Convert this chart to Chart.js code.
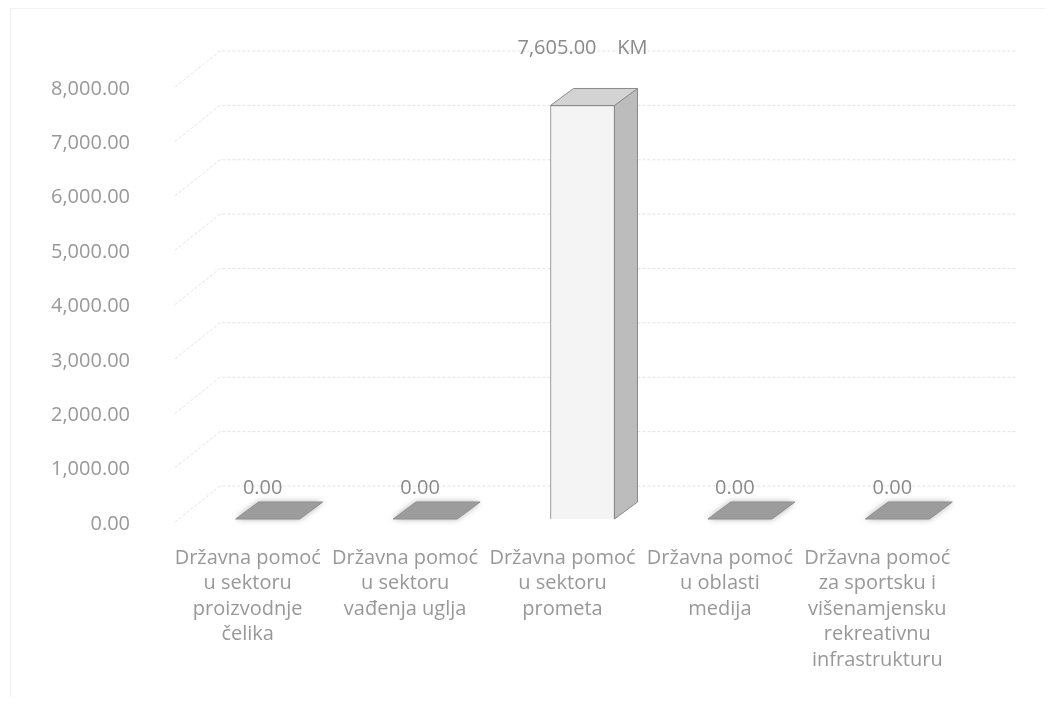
<!DOCTYPE html>
<html lang="en">
<head>
<meta charset="UTF-8">
<title>Državna pomoć</title>
<style>
  html, body { margin: 0; padding: 0; background: #fff; }
  .wrap { position: relative; width: 1054px; height: 704px; }
  .frame { position: absolute; left: 10px; top: 8px; width: 1034px; height: 688px;
           border-left: 1px solid #f0f0f0; border-top: 1px solid #f2f2f2; pointer-events: none; }
</style>
</head>
<body>
<div class="wrap">
  <canvas id="myChart" width="1054" height="704"></canvas>
  <div class="frame"></div>
</div>
<script src="https://cdn.jsdelivr.net/npm/chart.js"></script>
<script>
let categories = [
  ['Državna pomoć', 'u sektoru', 'proizvodnje', 'čelika'],
  ['Državna pomoć', 'u sektoru', 'vađenja uglja'],
  ['Državna pomoć', 'u sektoru', 'prometa'],
  ['Državna pomoć', 'u oblasti', 'medija'],
  ['Državna pomoć', 'za sportsku i', 'višenamjensku', 'rekreativnu', 'infrastrukturu']
];
let values = [0, 0, 7605, 0, 0];
let yTicks = [0, 1000, 2000, 3000, 4000, 5000, 6000, 7000, 8000];
let unit = 'KM';

let textColor = '#989898';
let fontFamily = '"Open Sans", sans-serif';
let fmt = v => v.toLocaleString('en-US', { minimumFractionDigits: 2, maximumFractionDigits: 2 });

// depth of the bars and of the back wall (fake excel 3d look)
let depth = { dx: 23, dy: -17 };
let wall = { dx: 45, dy: -33, left: -14, right: 41 };

let excel3d = {
  id: 'excel3d',
  beforeDatasetsDraw(chart) {
    let ctx = chart.ctx;
    let y = chart.scales.y;
    let area = chart.chartArea;
    ctx.save();
    ctx.strokeStyle = '#e2e2e2';
    ctx.lineWidth = 1;
    ctx.setLineDash([3, 2]);
    yTicks.forEach(t => {
      let py = y.getPixelForValue(t);
      let x0 = area.left + wall.left;
      ctx.beginPath();
      ctx.moveTo(x0, py + 3);
      ctx.lineTo(x0 + wall.dx, py + wall.dy);
      ctx.lineTo(area.right + wall.right, py + wall.dy);
      ctx.stroke();
    });
    ctx.restore();
  },
  afterDatasetsDraw(chart) {
    let ctx = chart.ctx;
    let meta = chart.getDatasetMeta(0);
    meta.data.forEach((bar, i) => {
      let p = bar.getProps(['x', 'y', 'base', 'width'], true);
      let l = p.x - p.width / 2, r = p.x + p.width / 2;
      ctx.save();
      if (values[i] > 0) {
        // side face
        ctx.beginPath();
        ctx.moveTo(r, p.y);
        ctx.lineTo(r + depth.dx, p.y + depth.dy);
        ctx.lineTo(r + depth.dx, p.base + depth.dy);
        ctx.lineTo(r, p.base);
        ctx.closePath();
        ctx.fillStyle = '#bcbcbc';
        ctx.fill();
        ctx.strokeStyle = '#8a8a8a';
        ctx.stroke();
      } else {
        ctx.shadowColor = 'rgba(0,0,0,0.35)';
        ctx.shadowBlur = 6;
      }
      // top face
      ctx.beginPath();
      ctx.moveTo(l, p.y);
      ctx.lineTo(r, p.y);
      ctx.lineTo(r + depth.dx, p.y + depth.dy);
      ctx.lineTo(l + depth.dx, p.y + depth.dy);
      ctx.closePath();
      ctx.fillStyle = values[i] > 0 ? '#d3d3d3' : '#9c9c9c';
      ctx.fill();
      ctx.shadowBlur = 0;
      ctx.strokeStyle = values[i] > 0 ? '#8a8a8a' : '#8f8f8f';
      ctx.stroke();
      ctx.restore();

      // value label
      ctx.save();
      ctx.fillStyle = '#8a8a8a';
      ctx.font = '20px ' + fontFamily;
      ctx.textAlign = 'center';
      ctx.textBaseline = 'middle';
      if (values[i] > 0) {
        ctx.fillText(fmt(values[i]) + '    ' + unit, p.x, p.y - 57);
      } else {
        ctx.fillText(fmt(values[i]), p.x - 5, p.y - 31);
      }
      ctx.restore();
    });
  }
};

let ctx = document.getElementById('myChart').getContext('2d');
let chart = new Chart(ctx, {
  type: 'bar',
  data: {
    labels: categories,
    datasets: [{
      data: values,
      backgroundColor: '#f4f4f4',
      borderColor: '#8a8a8a',
      borderWidth: 1,
      barThickness: 64
    }]
  },
  options: {
    responsive: false,
    animation: false,
    layout: { padding: { top: 84, right: 78, left: 0, bottom: 0 } },
    plugins: {
      legend: { display: false },
      tooltip: { enabled: false }
    },
    scales: {
      x: {
        grid: { display: false, drawTicks: false },
        border: { display: false },
        afterFit: s => { s.height = 185; },
        ticks: {
          color: textColor,
          font: { family: fontFamily, size: 20, lineHeight: 1.28 },
          padding: 26,
          labelOffset: -20,
          maxRotation: 0,
          autoSkip: false
        }
      },
      y: {
        min: 0,
        max: 8000,
        grid: { display: false, drawTicks: false },
        border: { display: false },
        afterFit: s => { s.width = 189; },
        afterBuildTicks: s => { s.ticks = yTicks.map(v => ({ value: v })); },
        ticks: {
          color: textColor,
          font: { family: fontFamily, size: 20 },
          padding: 59,
          labelOffset: 5,
          callback: v => fmt(v)
        }
      }
    }
  },
  plugins: [excel3d]
});
</script>
</body>
</html>
